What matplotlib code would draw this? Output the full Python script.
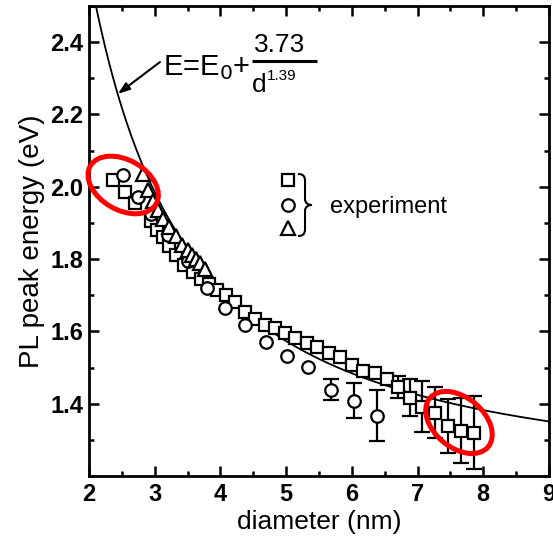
import numpy as np
import matplotlib
matplotlib.use('Agg')
import matplotlib.pyplot as plt
from matplotlib.patches import Ellipse, PathPatch
from matplotlib.path import Path
import matplotlib.transforms as mtransforms
from matplotlib.ticker import MultipleLocator

plt.rcParams['font.family'] = ['Liberation Sans', 'DejaVu Sans']

# ---------------- data ----------------
sq_d = [2.37, 2.55, 2.70, 2.95, 3.03, 3.12, 3.22, 3.33, 3.45, 3.58, 3.70, 3.82,
        3.95, 4.08, 4.22, 4.38, 4.53, 4.68, 4.83, 4.98, 5.13, 5.32, 5.47, 5.65,
        5.82, 6.00, 6.17, 6.35, 6.54, 6.70, 6.89, 7.07, 7.27, 7.46, 7.66, 7.86]
sq_E = [2.020, 1.985, 1.955, 1.905, 1.880, 1.860, 1.835, 1.810, 1.785, 1.765, 1.745, 1.730,
        1.715, 1.700, 1.680, 1.655, 1.635, 1.618, 1.610, 1.596, 1.582, 1.568, 1.557, 1.541,
        1.530, 1.508, 1.491, 1.486, 1.469, 1.447, 1.417, 1.392, 1.375, 1.339, 1.325, 1.320]
sq_err = [0] * 29 + [0.03, 0.05, 0.07, 0.07, 0.075, 0.09, 0.10]

ci_d = [2.52, 2.75, 2.95, 3.20, 3.50, 3.80, 4.07, 4.37, 4.69, 5.01, 5.33, 5.68, 6.03, 6.38]
ci_E = [2.033, 1.972, 1.925, 1.867, 1.795, 1.720, 1.665, 1.618, 1.571, 1.533, 1.502, 1.439, 1.408, 1.367]
ci_err = [0] * 11 + [0.03, 0.048, 0.07]

tr_d = [2.82, 2.90, 2.97, 3.05, 3.13, 3.22, 3.32, 3.42, 3.50, 3.57, 3.63, 3.69, 3.76]
tr_E = [2.035, 1.990, 1.960, 1.935, 1.910, 1.890, 1.865, 1.840, 1.825, 1.812, 1.800, 1.790, 1.772]

# fit: E = E0 + A / d^n
fit_E0 = 1.175
fit_A = 3.73
fit_n = 1.39

x_ticks = [2, 3, 4, 5, 6, 7, 8, 9]
y_ticks = [1.4, 1.6, 1.8, 2.0, 2.2, 2.4]

# ---------------- figure ----------------
W, H = 553, 539
fig = plt.figure(figsize=(W / 100, H / 100), dpi=100)
ax = fig.add_axes([89 / W, 63 / H, 460 / W, 470 / H])
ax.set_xlim(2, 9)
ax.set_ylim(1.2, 2.5)

d_fit = np.linspace(2.0, 9.0, 500)
ax.plot(d_fit, fit_E0 + fit_A / d_fit ** fit_n, color='black', lw=1.3, zorder=2)

mk = dict(mfc='white', mec='black', mew=1.6, ls='none')
eb = dict(fmt='none', ecolor='black', elinewidth=1.6, capsize=5.5, capthick=1.6, zorder=3)

sd = np.array(sq_d); se = np.array(sq_E); sr = np.array(sq_err)
m = sr > 0
ax.errorbar(sd[m], se[m], yerr=sr[m], **eb)
cd = np.array(ci_d); ce = np.array(ci_E); cr = np.array(ci_err)
m2 = cr > 0
ax.errorbar(cd[m2], ce[m2], yerr=cr[m2], **eb)

ax.plot(sq_d, sq_E, marker='s', ms=8.5, zorder=4, **mk)
ax.plot(ci_d, ci_E, marker='o', ms=9, zorder=5, **mk)
ax.plot(tr_d, tr_E, marker='^', ms=9.5, zorder=6, **mk)

# ticks & spines
ax.set_xticks(x_ticks)
ax.set_yticks(y_ticks)
ax.set_yticklabels([f'{v:.1f}' for v in y_ticks])
ax.xaxis.set_minor_locator(MultipleLocator(0.5))
ax.yaxis.set_minor_locator(MultipleLocator(0.1))
ax.tick_params(which='both', direction='in', top=True, right=True, width=1.8, color='black')
ax.tick_params(which='major', length=7, labelsize=17, pad=5)
ax.tick_params(axis='y', which='major', pad=4)
ax.tick_params(which='minor', length=3.5)
for lab in ax.get_xticklabels() + ax.get_yticklabels():
    lab.set_fontweight('bold')
for s in ax.spines.values():
    s.set_linewidth(2.0)

ax.set_xlabel('diameter (nm)', fontsize=19, labelpad=3)
ax.set_ylabel('PL peak energy (eV)', fontsize=20, labelpad=4)

# formula annotation
ax.text(3.126, 2.309, r'E=E$_0$+', fontsize=21, va='baseline', ha='left')
ax.text(4.907, 2.372, '3.73', fontsize=19, va='baseline', ha='center')
ax.plot([4.48, 5.47], [2.3475, 2.3475], color='black', lw=2.2, solid_capstyle='butt')
ax.text(4.48, 2.262, 'd', fontsize=19, va='baseline', ha='left')
ax.text(4.70, 2.295, '1.39', fontsize=11, va='baseline', ha='left')
ax.annotate('', xy=(2.44, 2.257), xytext=(3.08, 2.345),
            arrowprops=dict(arrowstyle='-|>,head_length=0.7,head_width=0.25',
                            color='black', lw=1.5, shrinkA=0, shrinkB=0))

# legend (markers + brace + text)
lx = 0.4326
for yy, mkr, ms in [(0.6298, 's', 8.5), (0.5766, 'o', 9), (0.5277, '^', 9.5)]:
    ax.plot([lx], [yy], marker=mkr, ms=ms, transform=ax.transAxes, clip_on=False, **mk)
brace_verts = [(-7, 31), (-2, 31), (0, 29), (0, 24), (0, 6), (0, 2), (3, 0), (7, 0),
               (3, 0), (0, -2), (0, -6), (0, -24), (0, -29), (-2, -31), (-7, -31)]
brace_codes = [Path.MOVETO, Path.CURVE4, Path.CURVE4, Path.CURVE4, Path.LINETO,
               Path.CURVE4, Path.CURVE4, Path.CURVE4, Path.CURVE4, Path.CURVE4, Path.CURVE4,
               Path.LINETO, Path.CURVE4, Path.CURVE4, Path.CURVE4]
bv = [(x / 100.0, y / 100.0) for x, y in brace_verts]
btrans = fig.dpi_scale_trans + mtransforms.ScaledTranslation(0.4696, 0.5766, ax.transAxes)
ax.add_patch(PathPatch(Path(bv, brace_codes), fill=False, lw=1.5, ec='black',
                       transform=btrans, clip_on=False))
ax.text(0.524, 0.5723, 'experiment', fontsize=17, va='center', ha='left', transform=ax.transAxes)

# red ellipses (highlighting)
for (cx, cy, w, h, ang) in [(2.52, 2.005, 0.76, 0.50, -30), (7.63, 1.348, 0.76, 0.50, -40)]:
    etrans = fig.dpi_scale_trans + mtransforms.ScaledTranslation(cx, cy, ax.transData)
    ax.add_patch(Ellipse((0, 0), w, h, angle=ang, fill=False, ec='#ff0000', lw=3.6,
                         transform=etrans, zorder=10, clip_on=False))

fig.savefig('out.png', dpi=100)
